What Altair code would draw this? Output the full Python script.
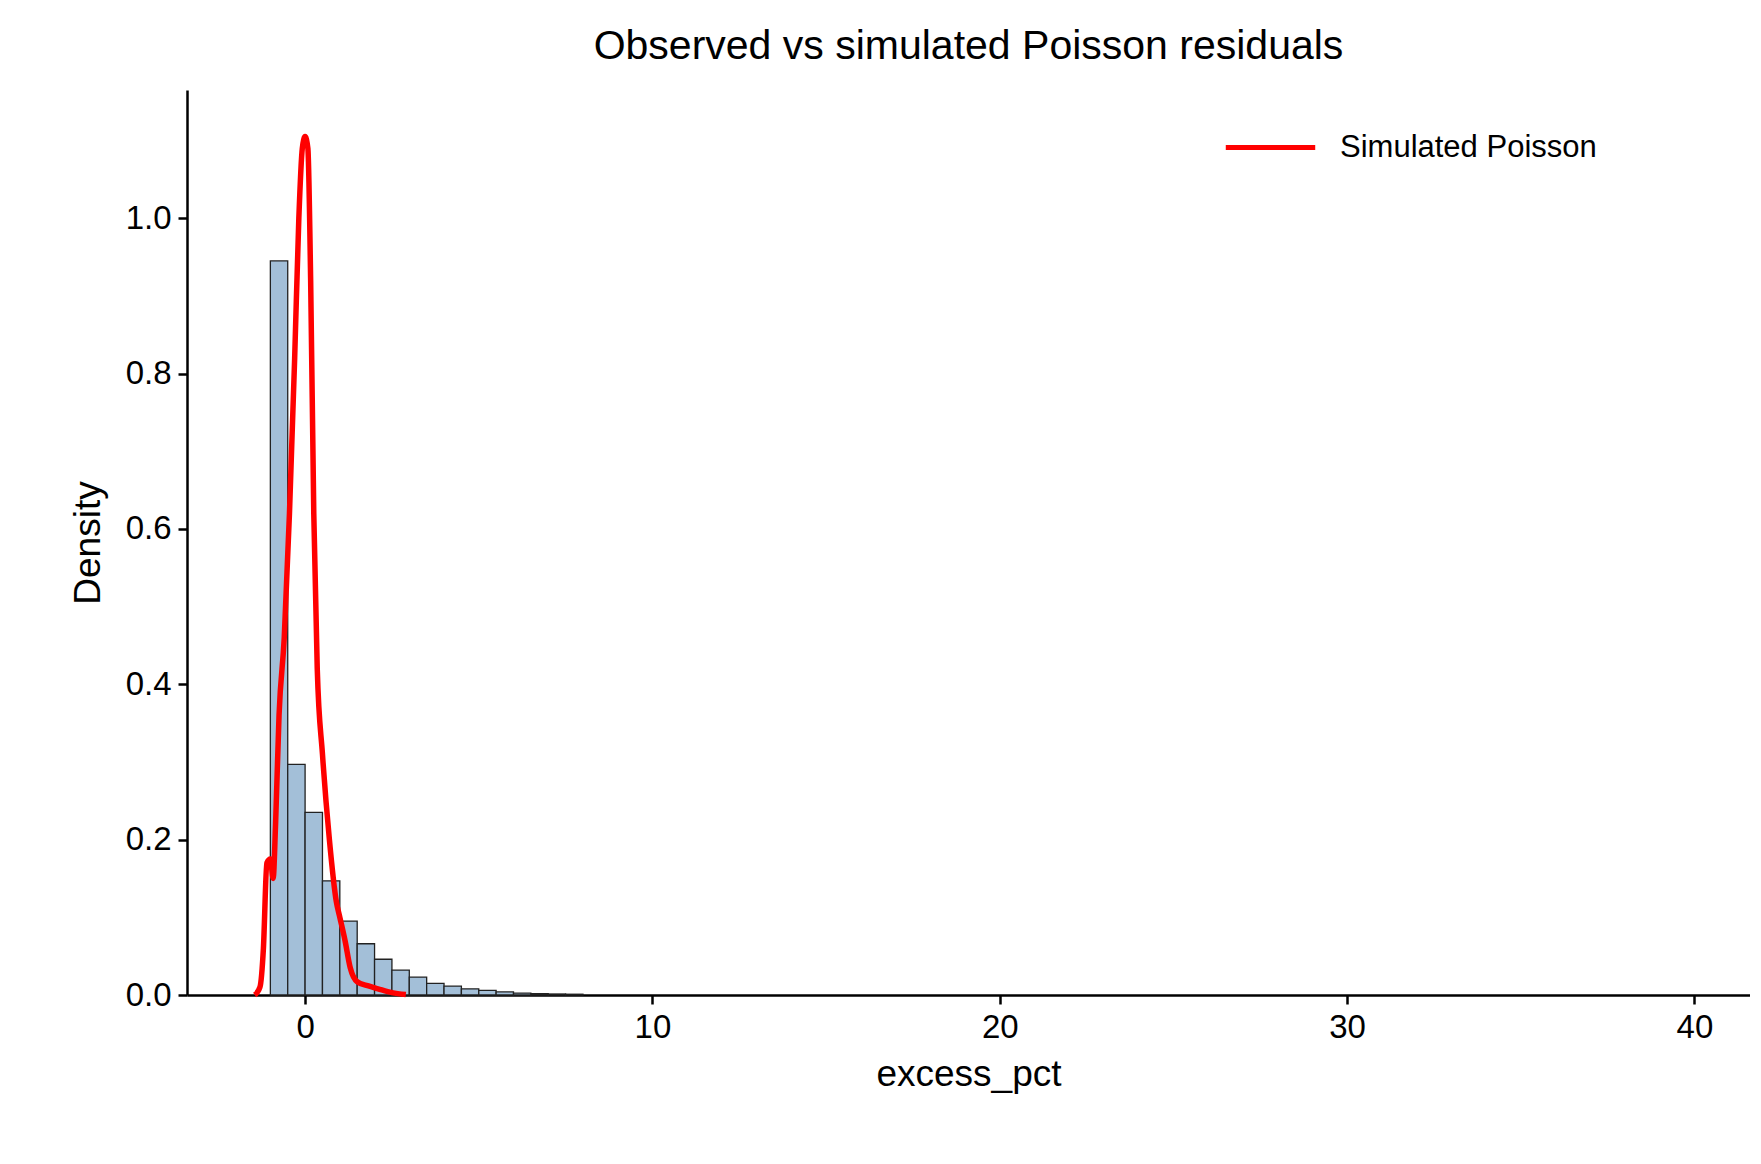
import pandas as pd
import altair as alt

# histogram of observed residuals (bin width 0.5 starting at -1)
bin_start = [-1.0 + 0.5 * i for i in range(18)]
density = [0.945, 0.297, 0.235, 0.147, 0.095, 0.066, 0.046, 0.032, 0.023,
           0.015, 0.0115, 0.008, 0.006, 0.004, 0.0025, 0.0017, 0.0013, 0.001]

# KDE of simulated Poisson residuals
kde_x = [-1.45, -1.3, -1.2, -1.1, -1.0, -0.92, -0.85, -0.75, -0.6, -0.45, -0.3,
         -0.18, -0.08, 0.0, 0.08, 0.16, 0.25, 0.35, 0.5, 0.7, 0.9, 1.0, 1.15,
         1.3, 1.5, 1.8, 2.1, 2.5, 2.9]
kde_y = [0.0, 0.01, 0.06, 0.17, 0.175, 0.15, 0.22, 0.36, 0.46, 0.62, 0.82,
         1.0, 1.09, 1.105, 1.09, 0.92, 0.62, 0.42, 0.31, 0.20, 0.12, 0.10, 0.07,
         0.035, 0.017, 0.012, 0.008, 0.003, 0.0005]

hist = pd.DataFrame({'x': bin_start, 'x2': [b + 0.5 for b in bin_start], 'y': density})
kde = pd.DataFrame({'x': kde_x, 'y': kde_y, 'series': 'Simulated Poisson'})

xs = alt.Scale(domain=[-3.4, 41.6], nice=False, zero=False)
ys = alt.Scale(domain=[0, 1.165], nice=False)

bars = alt.Chart(hist).mark_rect(fill='#a3bfd8', stroke='#222222', strokeWidth=1.3).encode(
    x=alt.X('x:Q', scale=xs, title='excess_pct',
            axis=alt.Axis(values=[0, 10, 20, 30, 40], format='d')),
    x2='x2:Q',
    y=alt.Y('y:Q', scale=ys, title='Density',
            axis=alt.Axis(values=[0, 0.2, 0.4, 0.6, 0.8, 1.0], format='.1f')),
    y2=alt.datum(0),
)

line = alt.Chart(kde).mark_line(strokeWidth=5.5, interpolate='monotone').encode(
    x=alt.X('x:Q', scale=xs),
    y=alt.Y('y:Q', scale=ys),
    color=alt.Color('series:N', scale=alt.Scale(range=['#ff0000']),
                    legend=alt.Legend(title=None, orient='none', legendX=1036, legendY=10,
                                      symbolType='stroke', symbolSize=8000,
                                      symbolStrokeWidth=5, labelFontSize=31, labelLimit=0,
                                      labelOffset=22,
                                      labelFont='Liberation Sans', labelColor='black')),
)

chart = (bars + line).properties(
    width=1563, height=905,
    autosize='none',
    padding={'left': 179, 'top': 82, 'right': 0, 'bottom': 160},
    title=alt.TitleParams('Observed vs simulated Poisson residuals', fontSize=41,
                          font='Liberation Sans', fontWeight='normal', offset=22),
).configure_view(stroke=None).configure_axis(
    labelFont='Liberation Sans', titleFont='Liberation Sans',
    labelFontSize=33, titleFontSize=37, titleFontWeight='normal',
    labelColor='black', titleColor='black',
    grid=False, domainColor='black', domainWidth=2.5,
    tickColor='black', tickWidth=2.5, tickSize=9, labelPadding=7,
).configure_axisX(titlePadding=12).configure_axisY(titlePadding=18)

chart.save("out.html", embed_options={"renderer": "svg", "actions": False})
